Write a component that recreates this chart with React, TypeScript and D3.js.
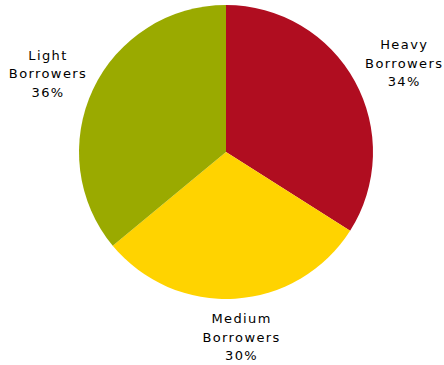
import React from "react";
import * as d3 from "d3";

const categories = ["Heavy Borrowers", "Medium Borrowers", "Light Borrowers"];
const lineOne = ["Heavy", "Medium", "Light"];
const values = [34, 30, 36];
const colors = ["#B00D20", "#FFD300", "#9AAA00"];

const W = 444;
const H = 365;
const cx = 226;
const cy = 152;
const R = 147;

export default function App() {
  const data = categories.map((c, i) => ({ name: c, first: lineOne[i], value: values[i], color: colors[i] }));
  const pie = d3.pie<any>().value((d) => d.value).sort(null);
  const arcs = pie(data);
  const arc = d3.arc<any>().innerRadius(0).outerRadius(R);
  return (
    <svg width={W} height={H} style={{ position: "absolute", left: 0, top: 0 }}>
      <rect width={W} height={H} fill="#fff" />
      <g transform={`translate(${cx},${cy})`}>
        {arcs.map((a, i) => (
          <path key={i} d={arc(a) as string} fill={a.data.color} />
        ))}
        {arcs.map((a, i) => {
          const mid = (a.startAngle + a.endAngle) / 2;
          const x = 200 * Math.sin(mid) + 3;
          const y = -185 * Math.cos(mid);
          const lines = [a.data.first, "Borrowers", `${a.data.value}%`];
          return (
            <text
              key={"t" + i}
              x={x}
              y={y}
              textAnchor="middle"
              fontFamily="DejaVu Sans"
              fontSize={13}
              letterSpacing={1.4}
              fill="#000"
            >
              {lines.map((l, j) => (
                <tspan key={j} x={x} y={y + 5 + (j - 1) * 18.5}>
                  {l}
                </tspan>
              ))}
            </text>
          );
        })}
      </g>
    </svg>
  );
}
